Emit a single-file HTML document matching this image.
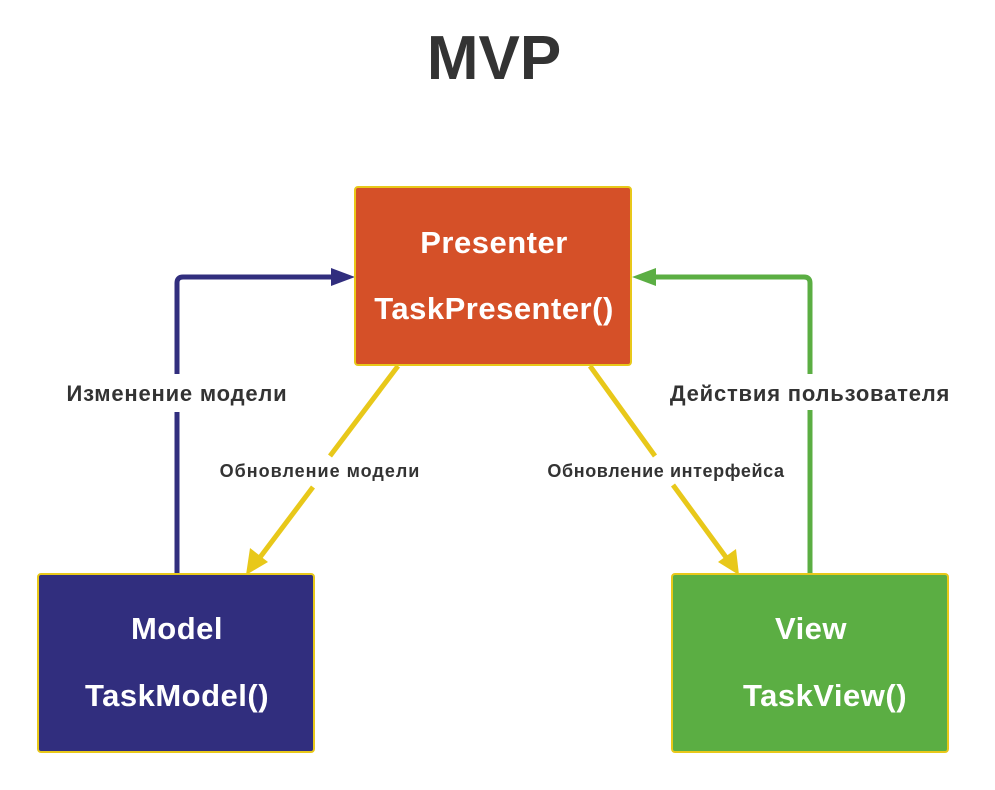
<!DOCTYPE html>
<html><head><meta charset="utf-8"><style>
body{margin:0;background:#fff;width:995px;height:785px;overflow:hidden;font-family:"Liberation Sans","DejaVu Sans",sans-serif}
</style></head><body>
<svg width="995" height="785" viewBox="0 0 995 785" xmlns="http://www.w3.org/2000/svg">
<text x="494" y="79" text-anchor="middle" font-family="Liberation Sans, sans-serif" font-size="62" font-weight="bold" fill="#333">MVP</text>
<!-- blue connector -->
<path d="M177 575 V412 M177 374 V283 Q177 277 183 277 H335" stroke="#312E7E" stroke-width="5" fill="none"/>
<polygon points="355,277 331,268 331,286" fill="#312E7E"/>
<!-- green connector -->
<path d="M810 575 V410 M810 374 V283 Q810 277 804 277 H652" stroke="#5BAE43" stroke-width="5" fill="none"/>
<polygon points="632,277 656,268 656,286" fill="#5BAE43"/>
<!-- yellow left -->
<path d="M398 366 L330 456 M313 487 L258 560" stroke="#E8C81A" stroke-width="5" fill="none"/>
<polygon points="246,575 250,548 268,562" fill="#E8C81A"/>
<!-- yellow right -->
<path d="M590 366 L655 456 M673 485 L728 560" stroke="#E8C81A" stroke-width="5" fill="none"/>
<polygon points="739,575 718,562 736,549" fill="#E8C81A"/>
<!-- boxes -->
<rect x="355" y="187" width="276" height="178" rx="3" fill="#D55028" stroke="#E8C81A" stroke-width="2"/>
<rect x="38" y="574" width="276" height="178" rx="3" fill="#312E7E" stroke="#E8C81A" stroke-width="2"/>
<rect x="672" y="574" width="276" height="178" rx="3" fill="#5BAE43" stroke="#E8C81A" stroke-width="2"/>
<g fill="#fff" font-size="31" font-weight="bold" letter-spacing="0.5" text-anchor="middle">
<text x="494" y="253">Presenter</text>
<text x="494" y="319">TaskPresenter()</text>
<text x="177" y="639">Model</text>
<text x="177" y="706">TaskModel()</text>
<text x="811" y="639">View</text>
<text x="825" y="706">TaskView()</text>
</g>
<g fill="#333" text-anchor="middle" font-weight="bold">
<text x="177" y="401" font-size="22" letter-spacing="0.8">Изменение модели</text>
<text x="810" y="401" font-size="22" letter-spacing="0.8">Действия пользователя</text>
<text x="320" y="477" font-size="18" letter-spacing="1">Обновление модели</text>
<text x="666" y="477" font-size="18" letter-spacing="0.6">Обновление интерфейса</text>
</g>
</svg>
</body></html>
